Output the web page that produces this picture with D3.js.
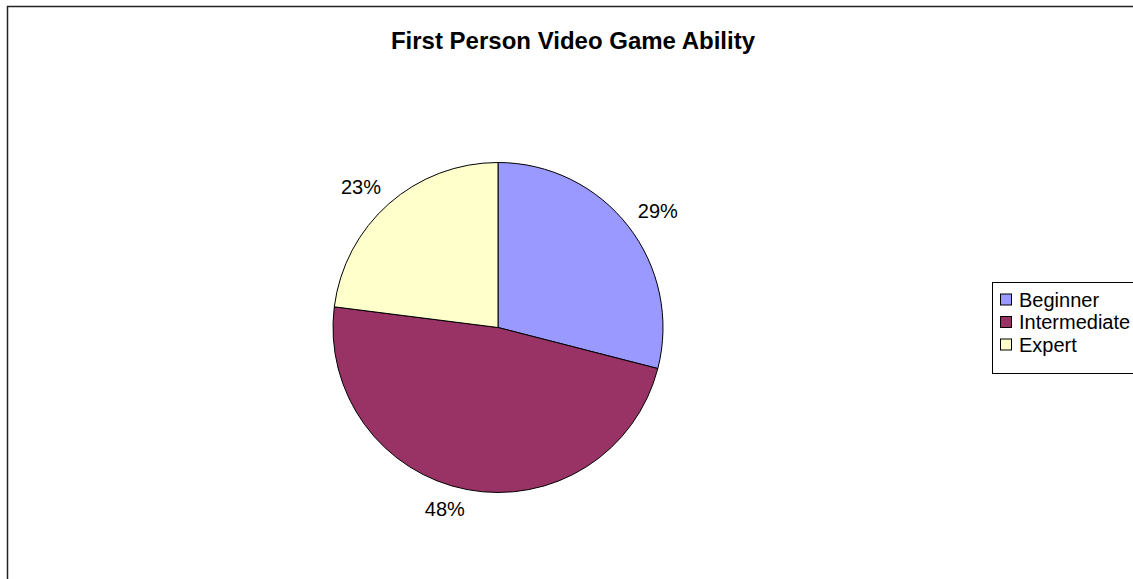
<!DOCTYPE html>
<html>
<head>
<meta charset="utf-8">
<script src="https://cdn.jsdelivr.net/npm/d3@7"></script>
<style>
  html, body { margin: 0; padding: 0; background: #fff; overflow: hidden; }
  svg { display: block; font-family: "Liberation Sans", Arial, sans-serif; }
</style>
</head>
<body>
<svg id="chart" width="1133" height="579"></svg>
<script>
// Survey responses: self-rated first person video game ability (percent)
const categories = ["Beginner", "Intermediate", "Expert"];
const values = [29, 48, 23];
const colors = ["#9999FF", "#993366", "#FFFFCC"];
const titleText = "First Person Video Game Ability";

const svg = d3.select("#chart");
const W = 1133, H = 579;

// Chart area frame (runs off the right and bottom edges)
svg.append("rect")
  .attr("x", 7.5).attr("y", 6.5)
  .attr("width", W + 20).attr("height", H + 20)
  .attr("fill", "#fff")
  .attr("stroke", "#222").attr("stroke-width", 1.5);

// Title
svg.append("text")
  .attr("x", 573).attr("y", 48.5)
  .attr("text-anchor", "middle")
  .attr("font-size", 24).attr("font-weight", "bold")
  .attr("fill", "#000")
  .text(titleText);

// Pie
const cx = 498, cy = 327.5, r = 165;
const data = categories.map((c, i) => ({ name: c, value: values[i], color: colors[i] }));
const pie = d3.pie().value(d => d.value).sort(null);
const arc = d3.arc().innerRadius(0).outerRadius(r);
const arcs = pie(data);

const g = svg.append("g").attr("transform", `translate(${cx},${cy})`);
g.selectAll("path.slice")
  .data(arcs)
  .join("path")
  .attr("class", "slice")
  .attr("d", arc)
  .attr("fill", d => d.data.color)
  .attr("stroke", "#000")
  .attr("stroke-width", 1)
  .attr("stroke-linejoin", "round");

// Percentage labels outside each slice: the label box corner nearest the
// pie centre sits on the slice's mid-angle ray at radius labelR.
const labelR = 177, labelFont = 20, boxH = 16;
const total = d3.sum(values);
const fmt = v => Math.round(v / total * 100) + "%";
g.selectAll("text.pct")
  .data(arcs)
  .join("text")
  .attr("class", "pct")
  .attr("font-size", labelFont)
  .attr("fill", "#000")
  .attr("text-anchor", "middle")
  .text(d => fmt(d.data.value))
  .each(function(d) {
    const a = (d.startAngle + d.endAngle) / 2;
    const s = Math.sin(a), c = Math.cos(a);
    const w = this.getComputedTextLength();
    const ax = labelR * s, ay = -labelR * c;
    const mx = ax + Math.sign(s) * w / 2;
    const my = ay - Math.sign(c) * boxH / 2;
    d3.select(this).attr("x", mx).attr("y", my + 7);
  });

// Legend (clipped by the right edge)
const lg = svg.append("g").attr("transform", "translate(992.5,282.5)");
lg.append("rect")
  .attr("x", 0).attr("y", 0)
  .attr("width", 200).attr("height", 91)
  .attr("fill", "#fff")
  .attr("stroke", "#000").attr("stroke-width", 1);

const rowY = d3.scalePoint().domain(categories).range([17, 62]);
const items = lg.selectAll("g.item")
  .data(data)
  .join("g")
  .attr("class", "item")
  .attr("transform", d => `translate(0,${rowY(d.name)})`);
items.append("rect")
  .attr("x", 8).attr("y", -5.5)
  .attr("width", 11).attr("height", 11)
  .attr("fill", d => d.color)
  .attr("stroke", "#000").attr("stroke-width", 1);
items.append("text")
  .attr("x", 26.5).attr("y", 7)
  .attr("font-size", 20)
  .attr("fill", "#000")
  .text(d => d.name);
</script>
</body>
</html>
